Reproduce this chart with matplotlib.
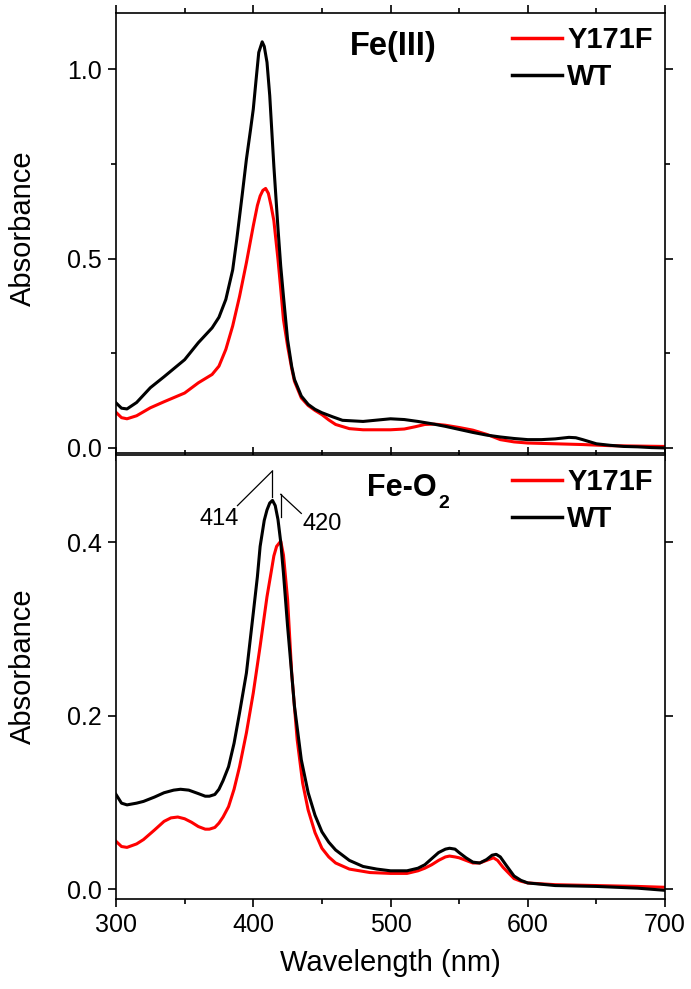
import matplotlib.pyplot as plt
from matplotlib.ticker import MultipleLocator

plt.rcParams['font.family'] = ['Liberation Sans', 'DejaVu Sans']

# Fe(III) spectra
wl_fe3_wt = [300, 304, 308, 315, 325, 335, 350, 360, 370, 375, 380, 385, 388, 392, 395, 398, 400,
             402, 404, 406.5, 408, 410, 412, 415, 418, 420, 422, 425, 428, 430, 435, 440, 445, 450,
             458, 465, 480, 500, 510, 520, 530, 540, 550, 560, 570, 580, 590, 600, 610, 620, 630,
             635, 640, 650, 660, 670, 680, 690, 700]
abs_fe3_wt = [0.119, 0.105, 0.103, 0.120, 0.159, 0.188, 0.233, 0.278, 0.317, 0.345, 0.392, 0.470,
              0.551, 0.670, 0.762, 0.840, 0.894, 0.970, 1.044, 1.072, 1.060, 1.018, 0.930, 0.744,
              0.580, 0.480, 0.400, 0.286, 0.215, 0.181, 0.137, 0.115, 0.102, 0.093, 0.082, 0.073,
              0.070, 0.077, 0.075, 0.070, 0.064, 0.057, 0.049, 0.041, 0.034, 0.029, 0.025, 0.022,
              0.022, 0.024, 0.028, 0.027, 0.022, 0.011, 0.007, 0.004, 0.003, 0.001, 0.000]

wl_fe3_mut = [300, 304, 308, 315, 325, 335, 350, 360, 370, 375, 380, 385, 390, 395, 400, 403, 405,
              407, 409, 411, 413, 415, 418, 420, 422, 425, 428, 430, 435, 440, 445, 450, 455, 460,
              470, 480, 500, 510, 518, 525, 532, 540, 550, 560, 570, 580, 590, 600, 620, 640, 660,
              680, 700]
abs_fe3_mut = [0.094, 0.080, 0.077, 0.085, 0.106, 0.122, 0.145, 0.172, 0.194, 0.216, 0.260, 0.322,
               0.400, 0.489, 0.586, 0.640, 0.665, 0.680, 0.685, 0.672, 0.639, 0.600, 0.498, 0.420,
               0.339, 0.269, 0.210, 0.176, 0.132, 0.112, 0.099, 0.088, 0.074, 0.062, 0.051, 0.048,
               0.048, 0.050, 0.056, 0.062, 0.063, 0.060, 0.054, 0.047, 0.036, 0.022, 0.016, 0.013,
               0.011, 0.009, 0.006, 0.005, 0.004]

# Fe-O2 spectra
wl_o2_wt = [300, 304, 308, 315, 320, 328, 335, 342, 347, 353, 360, 365, 368, 372, 375, 378, 382,
            386, 390, 395, 400, 403, 405, 408, 410, 412, 414, 416, 418, 420, 422, 425, 428, 430,
            435, 440, 445, 450, 455, 460, 470, 480, 490, 500, 512, 520, 525, 530, 535, 540, 543,
            547, 550, 555, 560, 565, 570, 574, 577, 580, 584, 590, 595, 600, 620, 650, 680, 700]
abs_o2_wt = [0.109, 0.099, 0.097, 0.099, 0.101, 0.106, 0.111, 0.114, 0.115, 0.114, 0.110, 0.107,
             0.107, 0.109, 0.115, 0.125, 0.141, 0.168, 0.203, 0.249, 0.318, 0.360, 0.395, 0.425,
             0.437, 0.445, 0.448, 0.442, 0.426, 0.400, 0.364, 0.303, 0.248, 0.211, 0.149, 0.111,
             0.085, 0.066, 0.054, 0.045, 0.033, 0.026, 0.023, 0.021, 0.021, 0.024, 0.028, 0.035,
             0.042, 0.046, 0.047, 0.046, 0.042, 0.036, 0.031, 0.030, 0.034, 0.039, 0.040, 0.037,
             0.028, 0.015, 0.010, 0.007, 0.004, 0.003, 0.001, -0.0015]

wl_o2_mut = [300, 304, 308, 315, 320, 328, 335, 340, 345, 350, 355, 360, 365, 368, 372, 375, 378,
             382, 386, 390, 395, 400, 405, 410, 413, 415, 417, 420, 422, 425, 428, 430, 432, 436,
             440, 445, 450, 455, 460, 470, 485, 500, 512, 520, 525, 530, 535, 540, 543, 547, 550,
             555, 560, 565, 570, 575, 578, 582, 590, 595, 600, 620, 650, 680, 700]
abs_o2_mut = [0.055, 0.049, 0.048, 0.052, 0.057, 0.068, 0.078, 0.082, 0.083, 0.081, 0.077, 0.072,
              0.069, 0.069, 0.071, 0.076, 0.083, 0.095, 0.115, 0.141, 0.180, 0.226, 0.280, 0.337,
              0.365, 0.384, 0.395, 0.401, 0.385, 0.334, 0.249, 0.210, 0.172, 0.122, 0.091, 0.065,
              0.047, 0.037, 0.030, 0.023, 0.019, 0.018, 0.018, 0.021, 0.024, 0.028, 0.033, 0.037,
              0.038, 0.037, 0.036, 0.033, 0.030, 0.030, 0.033, 0.036, 0.033, 0.025, 0.012, 0.009,
              0.007, 0.005, 0.004, 0.003, 0.002]

peak_wt = 414
peak_mut = 420

fig = plt.figure(figsize=(6.91, 9.89), dpi=100)
ax1 = fig.add_axes([0.1679, 0.5420, 0.7945, 0.4452])
ax2 = fig.add_axes([0.1679, 0.0910, 0.7945, 0.4489])


def style_axes(ax, show_xlabels):
    ax.set_xlim(300, 700)
    ax.xaxis.set_major_locator(MultipleLocator(100))
    ax.xaxis.set_minor_locator(MultipleLocator(50))
    for s in ax.spines.values():
        s.set_linewidth(1.2)
    ax.tick_params(axis='both', which='major', direction='out', length=6, width=1.2,
                   labelsize=18, top=True, right=True, pad=4)
    ax.tick_params(axis='both', which='minor', direction='out', length=3.5, width=1.2,
                   top=True, right=True)
    ax.tick_params(axis='x', which='both', labelbottom=show_xlabels)


ax1.plot(wl_fe3_mut, abs_fe3_mut, color='#ff0000', lw=2.2, label='Y171F')
ax1.plot(wl_fe3_wt, abs_fe3_wt, color='black', lw=2.2, label='WT')
ax1.set_ylim(-0.0132, 1.149)
ax1.yaxis.set_major_locator(MultipleLocator(0.5))
ax1.yaxis.set_minor_locator(MultipleLocator(0.25))
style_axes(ax1, False)
ax1.text(0.5046, 0.9240, 'Fe(III)', transform=ax1.transAxes, ha='center', va='center',
         fontsize=23.5, fontweight='bold')

ax2.plot(wl_o2_mut, abs_o2_mut, color='#ff0000', lw=2.2, label='Y171F')
ax2.plot(wl_o2_wt, abs_o2_wt, color='black', lw=2.2, label='WT')
ax2.set_ylim(-0.0115, 0.5003)
ax2.yaxis.set_major_locator(MultipleLocator(0.2))
style_axes(ax2, True)
ax2.set_xlabel('Wavelength (nm)', fontsize=21, labelpad=9)
ax2.text(0.4572, 0.9077, 'Fe-O', transform=ax2.transAxes, ha='left', va='baseline',
         fontsize=22, fontweight='bold')
ax2.text(0.5880, 0.8806, '2', transform=ax2.transAxes, ha='left', va='baseline',
         fontsize=14, fontweight='bold')

# peak markers
ax2.plot([peak_wt, peak_wt], [0.482, 0.452], color='black', lw=0.9)
ax2.plot([peak_wt, 388.5], [0.482, 0.442], color='black', lw=0.9)
ax2.text(375.2, 0.427, str(peak_wt), ha='center', va='center', fontsize=17)
ax2.plot([peak_mut, peak_mut], [0.455, 0.429], color='black', lw=0.9)
ax2.plot([peak_mut, 435], [0.455, 0.433], color='black', lw=0.9)
ax2.text(450.5, 0.421, str(peak_mut), ha='center', va='center', fontsize=17)

for ax, top in ((ax1, 0.969), (ax2, 0.970)):
    leg = ax.legend(loc='upper left', bbox_to_anchor=(0.7213, top), frameon=False,
                    prop={'size': 21, 'weight': 'bold'}, handlelength=1.7,
                    handletextpad=0.2, labelspacing=0.3, borderpad=0, borderaxespad=0)
    for line in leg.get_lines():
        line.set_linewidth(2.5)

fig.text(0.0330, 1 - 228 / 989, 'Absorbance', rotation=90, ha='center', va='center', fontsize=21)
fig.text(0.0330, 1 - 666 / 989, 'Absorbance', rotation=90, ha='center', va='center', fontsize=21)

fig.savefig('out.png', dpi=100)
